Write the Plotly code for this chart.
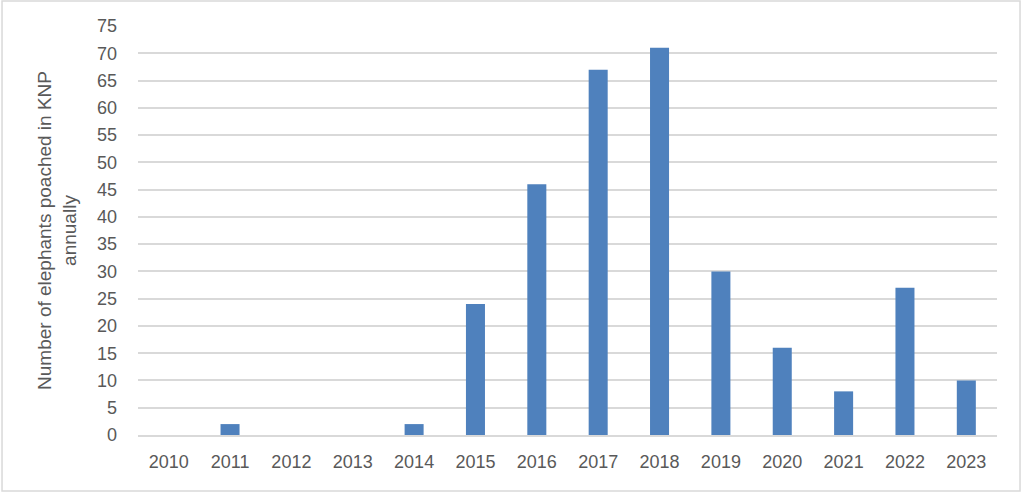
import plotly.graph_objects as go

# elephants poached in KNP per year
years = ["2010", "2011", "2012", "2013", "2014", "2015", "2016",
         "2017", "2018", "2019", "2020", "2021", "2022", "2023"]
poached = [0, 2, 0, 0, 2, 24, 46, 67, 71, 30, 16, 8, 27, 10]
y_ticks = list(range(0, 80, 5))

fig = go.Figure(go.Bar(
    x=years,
    y=poached,
    marker=dict(color="#4F81BD", line=dict(width=0)),
))

font_grey = "#595959"
fig.update_layout(
    width=1024,
    height=494,
    margin=dict(l=138, r=27, t=26, b=59),
    paper_bgcolor="white",
    plot_bgcolor="white",
    bargap=0.69,
    showlegend=False,
    font=dict(family="Liberation Sans, Arial, sans-serif", size=18, color=font_grey),
    xaxis=dict(
        showgrid=False,
        showline=True,
        linecolor="#D9D9D9",
        linewidth=1.5,
        ticks="",
        ticklabelstandoff=10,
        tickfont=dict(size=18, color=font_grey),
    ),
    yaxis=dict(
        range=[0, 75],
        tickvals=y_ticks,
        showgrid=True,
        gridcolor="#D9D9D9",
        gridwidth=1.5,
        zeroline=False,
        ticks="",
        ticklabelstandoff=20,
        tickfont=dict(size=18, color=font_grey),
        title=dict(
            text="Number of elephants poached in KNP<br>annually",
            font=dict(size=19, color=font_grey),
            standoff=15,
        ),
    ),
    shapes=[dict(
        type="rect", xref="paper", yref="paper",
        x0=-0.1583, x1=1.0268, y0=-0.1369, y1=1.0611,
        line=dict(color="#D9D9D9", width=1.5),
        layer="below",
    )],
)

fig.write_html("out.html", config={"displayModeBar": False},
               post_script="document.body.style.margin='0';")
